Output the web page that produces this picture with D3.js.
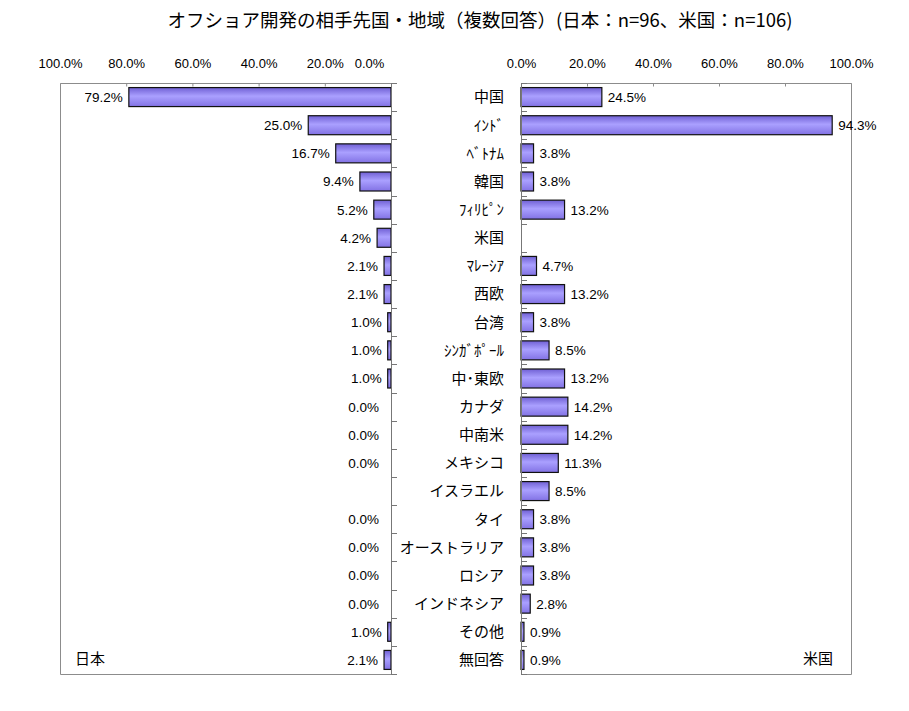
<!DOCTYPE html>
<html>
<head>
<meta charset="utf-8">
<script src="https://cdn.jsdelivr.net/npm/d3@7"></script>
<style>
  body { margin: 0; background: #fff; }
  svg { display: block; }
  .num { font-family: "Liberation Sans", Arial, sans-serif; font-size: 13px; fill: #000; }
  .val { font-size: 13.5px; }
  .jp { font-family: "Noto Sans CJK JP", sans-serif; fill: #000; }
</style>
</head>
<body>
<div id="chart"></div>
<script>
// 相手先国・地域
const categories = ['中国', 'ｲﾝﾄﾞ', 'ﾍﾞﾄﾅﾑ', '韓国', 'ﾌｨﾘﾋﾟﾝ', '米国', 'ﾏﾚｰｼｱ', '西欧', '台湾',
    'ｼﾝｶﾞﾎﾟｰﾙ', '中･東欧', 'カナダ', '中南米', 'メキシコ', 'イスラエル', 'タイ',
    'オーストラリア', 'ロシア', 'インドネシア', 'その他', '無回答'];

// 日本 (n=96) / 米国 (n=106)、null は回答項目なし
const japanValues = [79.2, 25.0, 16.7, 9.4, 5.2, 4.2, 2.1, 2.1, 1.0, 1.0, 1.0, 0.0, 0.0, 0.0,
    null, 0.0, 0.0, 0.0, 0.0, 1.0, 2.1];
const usValues = [24.5, 94.3, 3.8, 3.8, 13.2, null, 4.7, 13.2, 3.8, 8.5, 13.2, 14.2, 14.2, 11.3,
    8.5, 3.8, 3.8, 3.8, 2.8, 0.9, 0.9];

const tickValues = [0, 20, 40, 60, 80, 100];
const title = 'オフショア開発の相手先国・地域（複数回答）(日本：n=96、米国：n=106)';

const width = 909, height = 711;
const plotTop = 83, plotBottom = 674;

const svg = d3.select('#chart').append('svg')
    .attr('width', width)
    .attr('height', height);

// バーのグラデーション
const grad = svg.append('defs').append('linearGradient')
    .attr('id', 'barGrad')
    .attr('x1', 0).attr('y1', 0).attr('x2', 0).attr('y2', 1);
grad.append('stop').attr('offset', '0%').attr('stop-color', '#7060d4');
grad.append('stop').attr('offset', '45%').attr('stop-color', '#aaa0ff');
grad.append('stop').attr('offset', '100%').attr('stop-color', '#8272e4');

// スケール
const xLeft = d3.scaleLinear().domain([0, 100]).range([391, 60]);
const xRight = d3.scaleLinear().domain([0, 100]).range([521, 851]);
const y = d3.scaleBand()
    .domain(categories)
    .range([plotTop, plotBottom])
    .paddingInner(0.325)
    .paddingOuter(0.1625);

const fmt = d => d.toFixed(1) + '%';

// タイトル
svg.append('text')
    .attr('class', 'jp')
    .attr('x', 480)
    .attr('y', 27)
    .attr('text-anchor', 'middle')
    .style('font-size', '18.5px')
    .text(title);

// 枠線
const frame = svg.append('g').attr('fill', 'none').attr('stroke', '#8c8c8c').attr('stroke-width', 1);
frame.append('path')
    .attr('d', `M${xLeft(0)},${plotTop + 0.5}H${xLeft(100) + 0.5}V${plotBottom + 0.5}H${xLeft(0)}`);
frame.append('path')
    .attr('d', `M${xRight(0)},${plotTop + 0.5}H${xRight(100) + 0.5}V${plotBottom + 0.5}H${xRight(0)}`);

// 上部の目盛り軸
function drawTopAxis(scale, shiftZero) {
    const g = svg.append('g')
        .attr('transform', `translate(0,${plotTop + 0.5})`)
        .call(d3.axisTop(scale)
            .tickValues(tickValues)
            .tickSizeInner(-3)
            .tickSizeOuter(0)
            .tickPadding(16)
            .tickFormat(fmt));
    g.select('.domain').remove();
    g.selectAll('.tick line').attr('stroke', '#8c8c8c');
    g.selectAll('.tick text')
        .attr('class', 'num')
        .attr('dx', d => (shiftZero && d === 0) ? -22 : 0);
    g.attr('font-family', null).attr('font-size', null);
}
drawTopAxis(xLeft, true);
drawTopAxis(xRight, false);

// カテゴリ軸線と区切り目盛り
const step = y.step();
const boundaries = d3.range(categories.length + 1).map(i => plotTop + i * step);

function drawCategoryAxis(x0) {
    const g = svg.append('g').attr('stroke', '#777').attr('stroke-width', 1);
    g.append('line')
        .attr('x1', x0 + 0.5).attr('x2', x0 + 0.5)
        .attr('y1', plotTop).attr('y2', plotBottom + 1);
    g.selectAll('line.sep')
        .data(boundaries)
        .join('line')
        .attr('class', 'sep')
        .attr('x1', x0 + 0.5).attr('x2', x0 + 6)
        .attr('y1', d => Math.round(d) + 0.5)
        .attr('y2', d => Math.round(d) + 0.5);
}

// 日本のバー
const leftData = categories.map((c, i) => ({ cat: c, value: japanValues[i] })).filter(d => d.value !== null);
svg.append('g').selectAll('rect')
    .data(leftData.filter(d => d.value > 0))
    .join('rect')
    .attr('x', d => xLeft(d.value))
    .attr('y', d => y(d.cat))
    .attr('width', d => xLeft(0) - xLeft(d.value))
    .attr('height', y.bandwidth())
    .attr('fill', 'url(#barGrad)')
    .attr('stroke', '#111')
    .attr('stroke-width', 1.2);

svg.append('g').selectAll('text')
    .data(leftData)
    .join('text')
    .attr('class', 'num val')
    .attr('x', d => xLeft(d.value) - (d.value === 0 ? 12 : 6))
    .attr('y', d => y(d.cat) + y.bandwidth() / 2)
    .attr('dy', '0.36em')
    .attr('text-anchor', 'end')
    .text(d => fmt(d.value));

// 米国のバー
const rightData = categories.map((c, i) => ({ cat: c, value: usValues[i] })).filter(d => d.value !== null);
svg.append('g').selectAll('rect')
    .data(rightData)
    .join('rect')
    .attr('x', xRight(0))
    .attr('y', d => y(d.cat))
    .attr('width', d => xRight(d.value) - xRight(0))
    .attr('height', y.bandwidth())
    .attr('fill', 'url(#barGrad)')
    .attr('stroke', '#111')
    .attr('stroke-width', 1.2);

svg.append('g').selectAll('text')
    .data(rightData)
    .join('text')
    .attr('class', 'num val')
    .attr('x', d => xRight(d.value) + 6)
    .attr('y', d => y(d.cat) + y.bandwidth() / 2)
    .attr('dy', '0.36em')
    .text(d => fmt(d.value));

drawCategoryAxis(xLeft(0));
drawCategoryAxis(xRight(0));

// カテゴリ名
svg.append('g').selectAll('text')
    .data(categories)
    .join('text')
    .attr('class', 'jp')
    .attr('x', 504)
    .attr('y', d => y(d) + y.bandwidth() / 2)
    .attr('dy', '0.36em')
    .attr('text-anchor', 'end')
    .style('font-size', '15px')
    .text(d => d);

// 国名ラベル
svg.append('text')
    .attr('class', 'jp')
    .attr('x', 75)
    .attr('y', 659)
    .attr('dy', '0.36em')
    .style('font-size', '15px')
    .text('日本');
svg.append('text')
    .attr('class', 'jp')
    .attr('x', 833)
    .attr('y', 659)
    .attr('dy', '0.36em')
    .attr('text-anchor', 'end')
    .style('font-size', '15px')
    .text('米国');
</script>
</body>
</html>
